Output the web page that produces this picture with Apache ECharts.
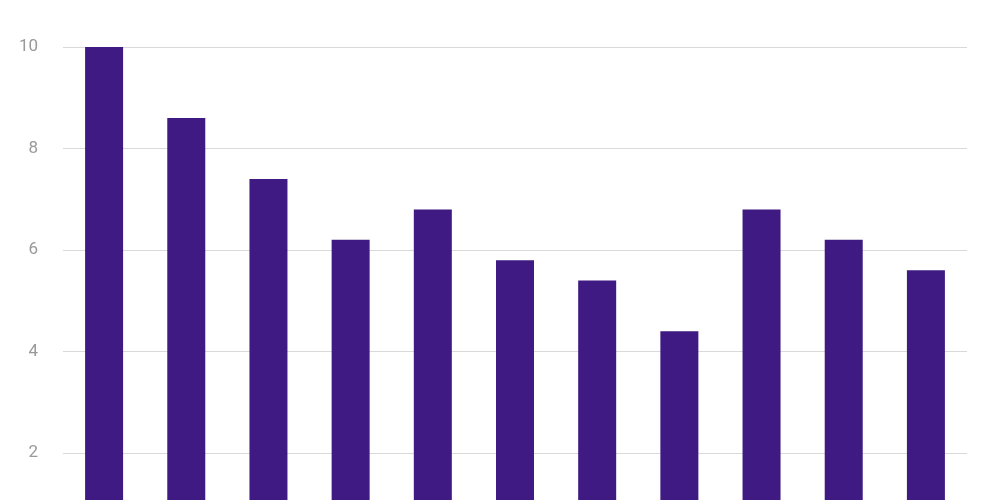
<!DOCTYPE html>
<html>
<head>
<meta charset="utf-8">
<script src="https://cdn.jsdelivr.net/npm/echarts@6/dist/echarts.min.js"></script>
<style>
  html, body { margin: 0; padding: 0; background: #fff; overflow: hidden; }
  #frame { width: 1000px; height: 500px; overflow: hidden; position: relative; }
  /* the chart is taller than the frame: its bottom is cut off like in the picture */
  #main { width: 1000px; height: 600px; }
</style>
</head>
<body>
<div id="frame"><div id="main"></div></div>
<script>
// data
var categories = ['1', '2', '3', '4', '5', '6', '7', '8', '9', '10', '11'];
var values = [10, 8.6, 7.4, 6.2, 6.8, 5.8, 5.4, 4.4, 6.8, 6.2, 5.6];
var yTicks = [0, 10, 2];   // min, max, interval

var myChart = echarts.init(document.getElementById('main'));

var option = {
    animation: false,
    grid: {
        left: 63,
        right: 33,
        top: 47,
        bottom: 45.5
    },
    xAxis: {
        type: 'category',
        data: categories,
        axisLine: {show: false},
        axisTick: {show: false},
        axisLabel: {show: false}
    },
    yAxis: {
        type: 'value',
        min: yTicks[0],
        max: yTicks[1],
        interval: yTicks[2],
        axisLine: {show: false},
        axisTick: {show: false},
        axisLabel: {
            color: '#999999',
            fontFamily: 'Roboto',
            fontSize: 17,
            margin: 25
        },
        splitLine: {lineStyle: {color: '#d9d9d9', width: 1}}
    },
    series: [{
        type: 'bar',
        data: values,
        barWidth: 38,
        itemStyle: {color: '#3e1a82'}
    }]
};

myChart.setOption(option);
</script>
</body>
</html>
